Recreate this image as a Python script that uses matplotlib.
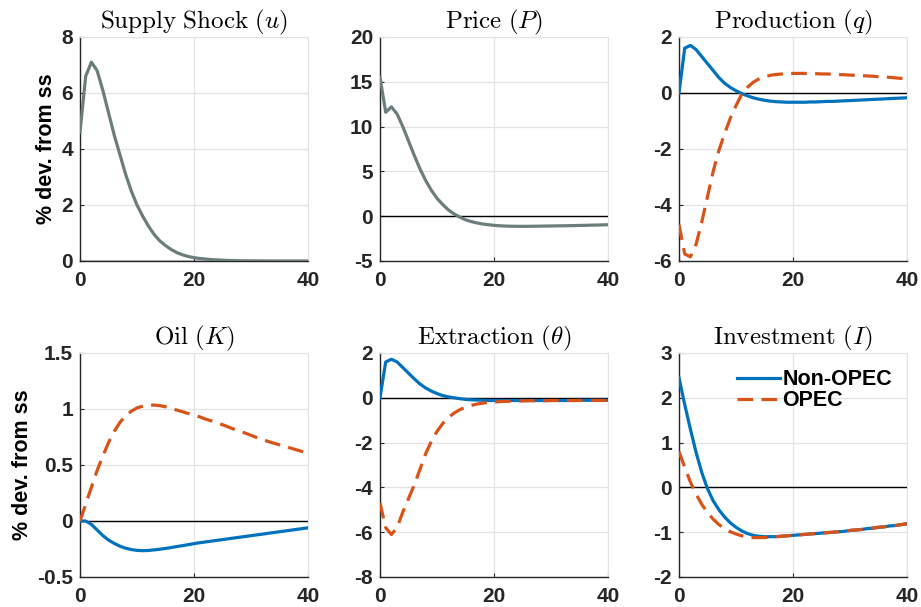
import matplotlib
matplotlib.use("Agg")
import matplotlib.pyplot as plt
import numpy as np
from matplotlib.ticker import FormatStrFormatter

plt.rcParams["mathtext.fontset"] = "cm"
plt.rcParams["axes.unicode_minus"] = False
plt.rcParams["font.family"] = ["Liberation Sans", "DejaVu Sans"]

t = np.arange(41)

# impulse responses, % deviation from steady state
u = [4.6, 6.6, 7.1, 6.8, 6.1, 5.3, 4.5, 3.8, 3.1, 2.5, 2.0, 1.6, 1.25, 0.95, 0.72, 0.55,
     0.41, 0.30, 0.22, 0.16, 0.12, 0.09, 0.07, 0.05, 0.04, 0.03, 0.02, 0.015, 0.01, 0.008,
     0.006, 0.005, 0.004, 0.003, 0.002, 0.002, 0.001, 0.001, 0.001, 0.001, 0.0]
price = [15.5, 11.6, 12.2, 11.4, 10.0, 8.4, 6.8, 5.3, 4.0, 2.9, 2.0, 1.3, 0.7, 0.25, -0.1,
         -0.4, -0.6, -0.75, -0.87, -0.95, -1.02, -1.07, -1.1, -1.12, -1.13, -1.13, -1.13,
         -1.12, -1.11, -1.10, -1.09, -1.08, -1.07, -1.06, -1.05, -1.03, -1.02, -1.0, -0.99,
         -0.97, -0.95]
q_non = [0, 1.6, 1.7, 1.55, 1.3, 1.05, 0.8, 0.55, 0.35, 0.2, 0.08, -0.02, -0.1, -0.17, -0.22,
         -0.26, -0.29, -0.31, -0.32, -0.33, -0.33, -0.33, -0.33, -0.32, -0.32, -0.31, -0.30,
         -0.30, -0.29, -0.28, -0.27, -0.26, -0.25, -0.24, -0.23, -0.22, -0.21, -0.20, -0.19,
         -0.18, -0.17]
q_opec = [-4.7, -5.75, -5.85, -5.4, -4.6, -3.7, -2.8, -2.05, -1.45, -0.9, -0.45, -0.05, 0.2,
          0.38, 0.5, 0.58, 0.63, 0.66, 0.68, 0.69, 0.70, 0.70, 0.70, 0.69, 0.69, 0.68, 0.68,
          0.67, 0.66, 0.65, 0.64, 0.63, 0.62, 0.61, 0.60, 0.58, 0.57, 0.56, 0.54, 0.52, 0.50]
k_non = [0, 0.0, -0.03, -0.08, -0.13, -0.17, -0.2, -0.225, -0.243, -0.255, -0.262, -0.265,
         -0.263, -0.258, -0.252, -0.245, -0.237, -0.228, -0.22, -0.211, -0.202, -0.194,
         -0.187, -0.18, -0.173, -0.166, -0.159, -0.152, -0.145, -0.138, -0.131, -0.124,
         -0.117, -0.11, -0.103, -0.096, -0.089, -0.082, -0.075, -0.068, -0.061]
k_opec = [0, 0.15, 0.3, 0.45, 0.58, 0.7, 0.8, 0.88, 0.94, 0.98, 1.01, 1.025, 1.033, 1.035,
          1.03, 1.02, 1.005, 0.99, 0.975, 0.96, 0.945, 0.93, 0.91, 0.895, 0.875, 0.86, 0.84,
          0.82, 0.80, 0.785, 0.765, 0.745, 0.73, 0.71, 0.695, 0.68, 0.665, 0.65, 0.635, 0.62,
          0.605]
th_non = [0, 1.6, 1.72, 1.6, 1.35, 1.1, 0.85, 0.62, 0.44, 0.3, 0.19, 0.1, 0.04, 0.0, -0.04,
          -0.07, -0.09, -0.1, -0.11, -0.12, -0.12, -0.12, -0.12, -0.12, -0.12, -0.12, -0.12,
          -0.12, -0.12, -0.12, -0.12, -0.12, -0.12, -0.12, -0.12, -0.11, -0.11, -0.11, -0.11,
          -0.11, -0.11]
th_opec = [-4.7, -5.8, -6.1, -5.8, -5.1, -4.5, -3.9, -3.2, -2.5, -1.95, -1.5, -1.15, -0.88,
           -0.68, -0.53, -0.42, -0.34, -0.28, -0.24, -0.21, -0.19, -0.17, -0.16, -0.15, -0.14,
           -0.14, -0.13, -0.13, -0.13, -0.13, -0.12, -0.12, -0.12, -0.12, -0.12, -0.12, -0.12,
           -0.12, -0.12, -0.12, -0.12]
i_non = [2.45, 1.85, 1.3, 0.78, 0.33, -0.03, -0.3, -0.5, -0.66, -0.79, -0.89, -0.97, -1.03,
         -1.07, -1.09, -1.1, -1.1, -1.1, -1.09, -1.08, -1.07, -1.06, -1.05, -1.04, -1.03,
         -1.02, -1.01, -1.0, -0.99, -0.98, -0.96, -0.95, -0.94, -0.92, -0.91, -0.89, -0.88,
         -0.86, -0.85, -0.83, -0.81]
i_opec = [0.8, 0.45, 0.12, -0.15, -0.38, -0.56, -0.71, -0.83, -0.92, -0.99, -1.04, -1.08,
          -1.1, -1.12, -1.12, -1.12, -1.11, -1.1, -1.09, -1.08, -1.07, -1.06, -1.05, -1.04,
          -1.03, -1.02, -1.01, -1.0, -0.99, -0.98, -0.96, -0.95, -0.94, -0.92, -0.91, -0.89,
          -0.88, -0.86, -0.85, -0.83, -0.81]

titles = [r"$\mathrm{Supply\ Shock}\ (u)$", r"$\mathrm{Price}\ (P)$",
          r"$\mathrm{Production}\ (q)$", r"$\mathrm{Oil}\ (K)$",
          r"$\mathrm{Extraction}\ (\theta)$", r"$\mathrm{Investment}\ (I)$"]
ylims = [(0, 8), (-5, 20), (-6, 2), (-0.5, 1.5), (-8, 2), (-2, 3)]
ysteps = [2, 5, 2, 0.5, 2, 1]

GRAY, BLUE, ORANGE = "#6b7e7c", "#0072BD", "#D95319"

fig = plt.figure(figsize=(9.21, 6.07), dpi=100)
lefts = [80 / 921, 380 / 921, 679 / 921]
bottoms = [1 - 261 / 607, 1 - 577 / 607]
w, h = 228 / 921, 224 / 607

axes = []
for r in range(2):
    for c in range(3):
        axes.append(fig.add_axes([lefts[c], bottoms[r], w, h]))

for k, ax in enumerate(axes):
    lo, hi = ylims[k]
    ax.set_xlim(0, 40)
    ax.set_ylim(lo, hi)
    ax.set_xticks([0, 20, 40])
    ax.set_yticks(np.arange(lo, hi + 1e-9, ysteps[k]))
    ax.yaxis.set_major_formatter(FormatStrFormatter("%g"))
    ax.grid(True, color="#e3e3e3", lw=0.9)
    ax.set_axisbelow(True)
    for s in ("top", "right"):
        ax.spines[s].set_color("#e3e3e3")
    for s in ("left", "bottom"):
        ax.spines[s].set_color("#262626")
        ax.spines[s].set_linewidth(1.0)
    ax.tick_params(direction="in", length=3, width=0.8, colors="#262626",
                   labelsize=15, pad=5, top=False, right=False)
    ax.tick_params(axis="x", pad=7)
    for lab in ax.get_xticklabels() + ax.get_yticklabels():
        lab.set_fontweight("bold")
    ax.axhline(0, color="black", lw=1.0, zorder=2)
    ax.set_title(titles[k], fontsize=18, pad=5)

dash = (0, (4.9, 2.6))
lw = 2.3
axes[0].plot(t, u, color=GRAY, lw=lw, zorder=3)
axes[1].plot(t, price, color=GRAY, lw=lw, zorder=3)
for ax, a, b in ((axes[2], q_non, q_opec), (axes[3], k_non, k_opec),
                 (axes[4], th_non, th_opec), (axes[5], i_non, i_opec)):
    ax.plot(t, a, color=BLUE, lw=lw, zorder=3, label="Non-OPEC")
    ax.plot(t, b, color=ORANGE, lw=lw, ls=dash, zorder=4, label="OPEC")

for ax in (axes[0], axes[3]):
    ax.set_ylabel("% dev. from ss", fontsize=15.5, fontweight="bold", labelpad=3)

leg = axes[5].legend(loc="upper right", bbox_to_anchor=(1.0, 0.995), frameon=False,
                     handlelength=2.0, handletextpad=0.1, labelspacing=0.0,
                     borderaxespad=0.3, prop={"weight": "bold", "size": 15.5})

fig.savefig("out.png", dpi=100)
